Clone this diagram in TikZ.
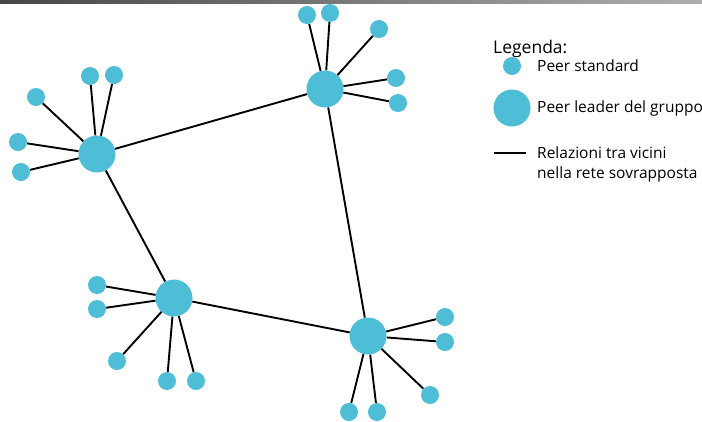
\documentclass[tikz,border=0pt]{standalone}
\usepackage{fontspec}
\setmainfont{Open Sans}
\definecolor{peerblue}{RGB}{78,190,215}
\definecolor{bardark}{RGB}{70,70,70}
\definecolor{barlight}{RGB}{175,175,175}
\begin{document}
\begin{tikzpicture}[x=1pt,y=-1pt,
  peer/.style={circle,fill=peerblue,draw=none,inner sep=0pt,minimum size=18pt},
  leader/.style={circle,fill=peerblue,draw=none,inner sep=0pt,minimum size=37pt},
  link/.style={draw=black,line width=1.9pt},
  legtext/.style={anchor=west,inner sep=0pt,font=\fontsize{15.5}{20}\selectfont,align=left},
  legtitle/.style={anchor=west,inner sep=0pt,font=\fontsize{17.5}{20}\selectfont}]
\useasboundingbox (0,0) rectangle (702,421);
\fill[white] (0,0) rectangle (702,421);
% thin header bar
\shade[left color=bardark,right color=barlight] (0,0) rectangle (702,3);

% group leaders
\node[leader] (l1) at (97,154) {};
\node[leader] (l2) at (325,89) {};
\node[leader] (l3) at (174,298) {};
\node[leader] (l4) at (368,336) {};

% standard peers
\node[peer] (a1) at (36,97) {};
\node[peer] (a2) at (90,76) {};
\node[peer] (a3) at (114,75) {};
\node[peer] (a4) at (18,142) {};
\node[peer] (a5) at (21,172) {};

\node[peer] (b1) at (307,15) {};
\node[peer] (b2) at (330,13) {};
\node[peer] (b3) at (379,29) {};
\node[peer] (b4) at (396,78) {};
\node[peer] (b5) at (398,103) {};

\node[peer] (c1) at (97,285) {};
\node[peer] (c2) at (97,309) {};
\node[peer] (c3) at (117,361) {};
\node[peer] (c4) at (167,381) {};
\node[peer] (c5) at (196,381) {};

\node[peer] (d1) at (445,317) {};
\node[peer] (d2) at (445,342) {};
\node[peer] (d3) at (430,395) {};
\node[peer] (d4) at (349,412) {};
\node[peer] (d5) at (377,412) {};

% overlay links between leaders
\draw[link] (l1) -- (l2);
\draw[link] (l1) -- (l3);
\draw[link] (l3) -- (l4);
\draw[link] (l2) -- (l4);

% links from each leader to its peers
\foreach \p in {a1,a2,a3,a4,a5} \draw[link] (l1) -- (\p);
\foreach \p in {b1,b2,b3,b4,b5} \draw[link] (l2) -- (\p);
\foreach \p in {c1,c2,c3,c4,c5} \draw[link] (l3) -- (\p);
\foreach \p in {d1,d2,d3,d4,d5} \draw[link] (l4) -- (\p);

% legend
\node[legtitle] (legtitle) at (493,49) {Legenda:};
\node[peer] (legpeer) at (512,66) {};
\node[legtext] (legpeertext) at (537,66) {Peer standard};
\node[leader] (legleader) at (512,108) {};
\node[legtext] (legleadertext) at (537,108) {Peer leader del gruppo};
\coordinate (legls) at (494,153);
\coordinate (legle) at (526,153);
\draw[draw=black,line width=1.5pt] (legls) -- (legle);
\node[legtext] (leglinktext) at (537,164) {Relazioni tra vicini\\nella rete sovrapposta};
\end{tikzpicture}
\end{document}
